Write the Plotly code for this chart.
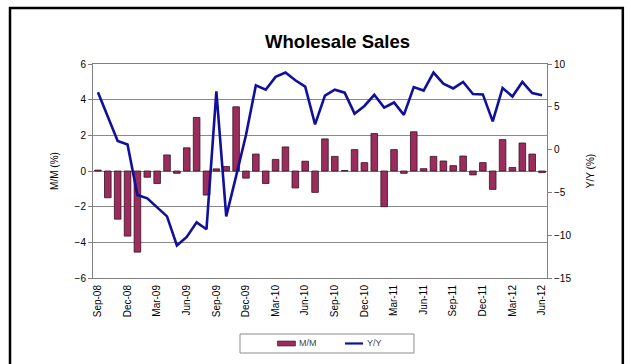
import plotly.graph_objects as go

months = [
    "Sep-08", "Oct-08", "Nov-08", "Dec-08", "Jan-09", "Feb-09", "Mar-09", "Apr-09",
    "May-09", "Jun-09", "Jul-09", "Aug-09", "Sep-09", "Oct-09", "Nov-09", "Dec-09",
    "Jan-10", "Feb-10", "Mar-10", "Apr-10", "May-10", "Jun-10", "Jul-10", "Aug-10",
    "Sep-10", "Oct-10", "Nov-10", "Dec-10", "Jan-11", "Feb-11", "Mar-11", "Apr-11",
    "May-11", "Jun-11", "Jul-11", "Aug-11", "Sep-11", "Oct-11", "Nov-11", "Dec-11",
    "Jan-12", "Feb-12", "Mar-12", "Apr-12", "May-12", "Jun-12",
]

# month-over-month change, % (left axis)
mm = [
    0.05, -1.5, -2.7, -3.65, -4.55, -0.35, -0.7, 0.9,
    -0.13, 1.3, 3.0, -1.35, 0.12, 0.25, 3.6, -0.4,
    0.95, -0.7, 0.65, 1.35, -0.95, 0.55, -1.2, 1.8,
    0.82, 0.03, 1.2, 0.47, 2.1, -2.0, 1.2, -0.13,
    2.2, 0.13, 0.82, 0.56, 0.3, 0.84, -0.22, 0.47,
    -1.03, 1.76, 0.2, 1.57, 0.95, -0.09,
]

# year-over-year change, % (right axis)
yy = [
    6.7, 3.8, 1.0, 0.6, -5.3, -5.7, -6.7, -7.8,
    -11.2, -10.2, -8.5, -9.3, 6.8, -7.8, -3.1, 1.7,
    7.5, 7.0, 8.5, 9.0, 8.1, 7.35, 2.95, 6.3,
    7.0, 6.65, 4.2, 5.1, 6.4, 4.9, 5.5, 4.05,
    7.3, 6.9, 9.0, 7.7, 7.15, 7.9, 6.5, 6.45,
    3.3, 7.2, 6.2, 7.9, 6.6, 6.35,
]

tick_months = months[::3]
series_names = ["M/M", "Y/Y"]

FONT = "Liberation Sans, Arial, sans-serif"
BAR_COLOR = "#9b2d5c"
LINE_COLOR = "#10109a"

fig = go.Figure()
fig.add_trace(go.Bar(
    x=months, y=mm, name=series_names[0],
    marker=dict(color=BAR_COLOR, line=dict(color="#3a1025", width=0.8)),
    yaxis="y",
))
fig.add_trace(go.Scatter(
    x=months, y=yy, name=series_names[1], mode="lines",
    line=dict(color=LINE_COLOR, width=2.6),
    yaxis="y2",
))

# outer chart frame
fig.add_shape(type="rect", xref="paper", yref="paper",
              x0=-0.1828, x1=1.167, y0=-0.45, y1=1.2617,
              line=dict(color="black", width=2.5), layer="below")

# compact legend box beneath the category labels
fig.add_shape(type="rect", xref="paper", yref="paper",
              x0=0.3238, x1=0.707, y0=-0.3505, y1=-0.2617,
              line=dict(color="#8c8c8c", width=1), fillcolor="white")
fig.add_shape(type="rect", xref="paper", yref="paper",
              x0=0.4063, x1=0.4460, y0=-0.3178, y1=-0.2944,
              line=dict(color="#3a1025", width=0.6), fillcolor=BAR_COLOR)
fig.add_shape(type="line", xref="paper", yref="paper",
              x0=0.5551, x1=0.5947, y0=-0.306, y1=-0.306,
              line=dict(color=LINE_COLOR, width=2.2))
fig.add_annotation(xref="paper", yref="paper", x=0.4504, y=-0.306,
                   text=series_names[0], showarrow=False, xanchor="left",
                   yanchor="middle", font=dict(size=9, color="#444444"))
fig.add_annotation(xref="paper", yref="paper", x=0.5991, y=-0.306,
                   text=series_names[1], showarrow=False, xanchor="left",
                   yanchor="middle", font=dict(size=9, color="#444444"))

fig.update_layout(
    width=631, height=364, autosize=False,
    margin=dict(l=93, r=84, t=64, b=86, autoexpand=False),
    paper_bgcolor="white", plot_bgcolor="white",
    font=dict(family=FONT, size=10, color="black"),
    title=dict(text="<b>Wholesale Sales</b>", x=0.535, xanchor="center",
               y=0.885, yanchor="middle", font=dict(size=18.5, family=FONT)),
    bargap=0.33,
    showlegend=False,
    xaxis=dict(
        type="category", categoryorder="array", categoryarray=months,
        tickmode="array", tickvals=tick_months, ticktext=tick_months,
        tickangle=-90, tickfont=dict(size=10), automargin=False,
        ticklabelstandoff=2,
        showline=True, linecolor="#808080", linewidth=1,
        mirror=True, ticks="", showgrid=False, zeroline=False,
        range=[-0.5, len(months) - 0.5],
    ),
    yaxis=dict(
        range=[-6, 6], dtick=2, tickfont=dict(size=10), automargin=False,
        title=dict(text="M/M (%)", font=dict(size=10), standoff=14),
        showgrid=True, gridcolor="#8a8a8a", gridwidth=1,
        zeroline=True, zerolinecolor="#8a8a8a", zerolinewidth=1,
        showline=True, linecolor="#808080", linewidth=1,
        ticks="outside", ticklen=4, tickcolor="#808080",
    ),
    yaxis2=dict(
        range=[-15, 10], dtick=5, overlaying="y", side="right",
        tickfont=dict(size=10), automargin=False,
        title=dict(text="Y/Y (%)", font=dict(size=10), standoff=16),
        showgrid=False, zeroline=False,
        showline=True, linecolor="#808080", linewidth=1,
        ticks="outside", ticklen=4, tickcolor="#808080",
    ),
)

fig.write_html("out.html")
